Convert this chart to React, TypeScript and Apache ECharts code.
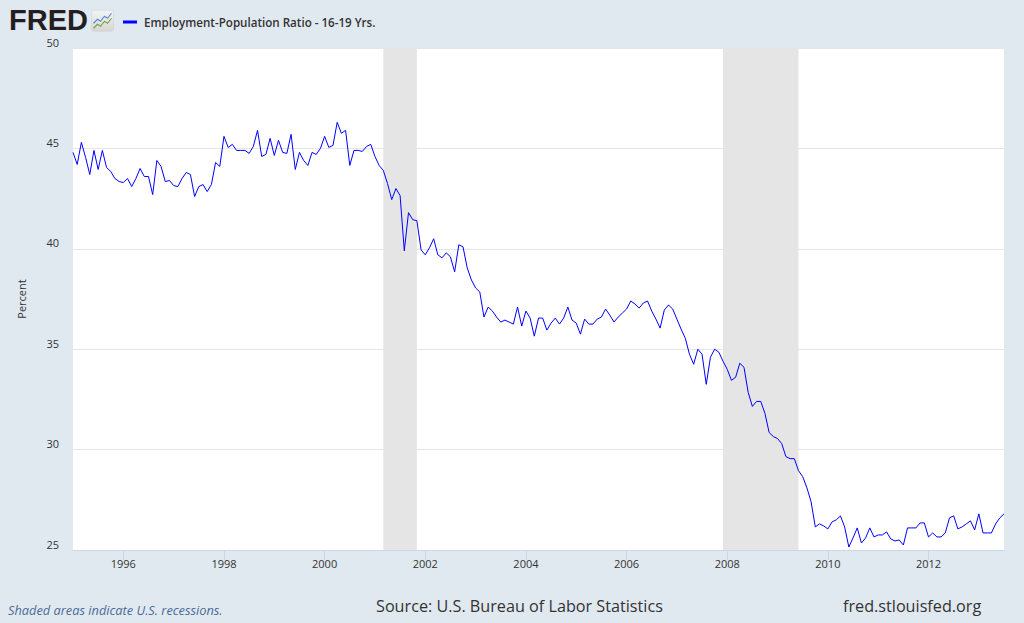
import React, { useEffect, useRef } from "react";
import * as echarts from "echarts";

const SERIES_NAME = "Employment-Population Ratio - 16-19 Yrs.";
const START_YEAR = 1995;
const START_MONTH = 0; // January

// Monthly values, Jan 1995 .. Jul 2013 (percent)
const y1995 = [44.8, 44.2, 45.3, 44.55, 43.7, 44.9, 43.95, 44.9, 44.05, 43.85, 43.5, 43.35];
const y1996 = [43.3, 43.5, 43.1, 43.5, 44.0, 43.6, 43.6, 42.7, 44.4, 44.1, 43.35, 43.4];
const y1997 = [43.15, 43.1, 43.5, 43.8, 43.7, 42.6, 43.1, 43.2, 42.85, 43.2, 44.3, 44.1];
const y1998 = [45.6, 45.05, 45.2, 44.9, 44.9, 44.9, 44.75, 45.1, 45.9, 44.6, 44.7, 45.5];
const y1999 = [44.65, 45.4, 44.8, 44.75, 45.7, 43.95, 44.8, 44.4, 44.15, 44.8, 44.7, 45.0];
const y2000 = [45.6, 45.05, 45.15, 46.3, 45.75, 45.9, 44.15, 44.9, 44.9, 44.85, 45.1, 45.2];
const y2001 = [44.6, 44.15, 43.9, 43.25, 42.45, 43.0, 42.65, 39.9, 41.8, 41.45, 41.4, 39.95];
const y2002 = [39.7, 40.05, 40.5, 39.7, 39.55, 39.8, 39.6, 38.85, 40.2, 40.1, 39.05, 38.45];
const y2003 = [38.05, 37.85, 36.6, 37.1, 36.9, 36.6, 36.35, 36.45, 36.35, 36.25, 37.1, 36.15];
const y2004 = [36.9, 36.55, 35.65, 36.55, 36.55, 35.95, 36.3, 36.55, 36.25, 36.55, 37.1, 36.45];
const y2005 = [36.3, 35.75, 36.5, 36.25, 36.25, 36.5, 36.6, 37.0, 36.7, 36.35, 36.6, 36.8];
const y2006 = [37.0, 37.4, 37.25, 37.05, 37.3, 37.4, 36.9, 36.5, 36.05, 36.95, 37.2, 37.0];
const y2007 = [36.5, 36.0, 35.55, 34.75, 34.25, 35.0, 34.75, 33.25, 34.6, 35.0, 34.85, 34.4];
const y2008 = [34.0, 33.45, 33.6, 34.3, 34.1, 32.85, 32.15, 32.4, 32.4, 31.8, 30.85, 30.65];
const y2009 = [30.55, 30.3, 29.65, 29.55, 29.55, 28.95, 28.65, 28.1, 27.4, 26.15, 26.3, 26.2];
const y2010 = [26.05, 26.4, 26.5, 26.7, 26.15, 25.15, 25.6, 26.1, 25.35, 25.6, 26.1, 25.65];
const y2011 = [25.75, 25.75, 25.9, 25.55, 25.45, 25.5, 25.25, 26.1, 26.1, 26.1, 26.35, 26.35];
const y2012 = [25.65, 25.85, 25.65, 25.65, 25.85, 26.6, 26.7, 26.05, 26.15, 26.3, 26.45, 26.0];
const y2013 = [26.8, 25.85, 25.85, 25.85, 26.3, 26.6, 26.8];

const values = [
  ...y1995, ...y1996, ...y1997, ...y1998, ...y1999, ...y2000, ...y2001,
  ...y2002, ...y2003, ...y2004, ...y2005, ...y2006, ...y2007, ...y2008,
  ...y2009, ...y2010, ...y2011, ...y2012, ...y2013,
];

// Recessions [start, end] as [year, monthIndex]
const recessionStarts: [number, number][] = [[2001, 2], [2007, 11]];
const recessionEnds: [number, number][] = [[2001, 10], [2009, 5]];

const tickYears = [1996, 1998, 2000, 2002, 2004, 2006, 2008, 2010, 2012];
const yTicks = { min: 25, max: 50, step: 5 };

// decimal year position of a month
const pos = (y: number, m: number) => y + m / 12;

export default function App() {
  const ref = useRef<HTMLDivElement>(null);

  useEffect(() => {
    if (!ref.current) return;
    const chart = echarts.init(ref.current, undefined, { renderer: "svg" });

    const data = values.map((v, i) => [pos(START_YEAR, START_MONTH + i), v]);
    const xMin = pos(START_YEAR, START_MONTH);
    const xMax = pos(START_YEAR, START_MONTH + values.length - 1);
    const areas = recessionStarts.map((s, i) => [
      { xAxis: pos(s[0], s[1]) },
      { xAxis: pos(recessionEnds[i][0], recessionEnds[i][1]) },
    ]);

    const option: any = {
      animation: false,
      backgroundColor: "#e1e9f0",
      textStyle: { fontFamily: "Open Sans" },
      grid: {
        left: 73,
        right: 20,
        top: 48,
        bottom: 73,
        show: true,
        backgroundColor: "#ffffff",
        borderWidth: 0,
      },
      legend: {
        left: 118,
        top: 11,
        itemWidth: 14,
        itemHeight: 3,
        itemGap: 8,
        data: [{ name: SERIES_NAME, icon: "rect" }],
        textStyle: {
          color: "#333333",
          fontSize: 11.6,
          fontWeight: 600,
          fontFamily: "Open Sans",
          padding: [0, 0, 0, 2],
        },
      },
      xAxis: {
        type: "value",
        min: xMin,
        max: xMax,
        axisLine: { show: true, lineStyle: { color: "#ccd6eb" } },
        axisTick: {
          show: true,
          length: 10,
          lineStyle: { color: "#ccd6eb" },
          customValues: tickYears,
        },
        axisLabel: {
          customValues: tickYears,
          formatter: (v: number) => String(Math.round(v)),
          color: "#333333",
          fontSize: 11,
          fontFamily: "Open Sans",
          margin: 8,
        },
        splitLine: { show: false },
      },
      yAxis: {
        type: "value",
        min: yTicks.min,
        max: yTicks.max,
        interval: yTicks.step,
        name: "Percent",
        nameLocation: "middle",
        nameGap: 46,
        nameTextStyle: { color: "#333333", fontSize: 11, fontFamily: "Open Sans" },
        axisLine: { show: false },
        axisTick: { show: false },
        axisLabel: {
          color: "#333333",
          fontSize: 11,
          fontFamily: "Open Sans",
          margin: 14,
          verticalAlign: "bottom",
          lineHeight: 12,
        },
        splitLine: { lineStyle: { color: "#e6e6e6", width: 1 } },
      },
      series: [
        {
          type: "line",
          name: SERIES_NAME,
          data,
          symbol: "none",
          showSymbol: false,
          lineStyle: { color: "#0000ff", width: 1 },
          itemStyle: { color: "#0000ff" },
          markArea: {
            silent: true,
            itemStyle: { color: "#e5e5e5", opacity: 1 },
            data: areas,
          },
        },
      ],
      graphic: [
        {
          type: "text",
          left: 9,
          top: 5,
          style: {
            text: "FRED",
            fill: "#231f20",
            fontSize: 29,
            fontWeight: 900,
            fontFamily: "Liberation Sans",
          },
        },
        {
          type: "group",
          left: 91,
          top: 10,
          children: [
            {
              type: "rect",
              shape: { x: 0, y: 0, width: 22, height: 21, r: 2 },
              style: {
                fill: new echarts.graphic.LinearGradient(0, 0, 0, 1, [
                  { offset: 0, color: "#f4f4f4" },
                  { offset: 1, color: "#d6d6d6" },
                ]),
                stroke: "#cfcfcf",
                lineWidth: 0.5,
              },
            },
            {
              type: "polyline",
              shape: { points: [[2, 13], [6, 9], [9, 11], [13, 6], [16, 8], [20, 3]] },
              style: { stroke: "#5b8bd0", lineWidth: 1.2, fill: "none" },
            },
            {
              type: "polyline",
              shape: { points: [[2, 18], [6, 14], [9, 16], [13, 11], [16, 13], [20, 8]] },
              style: { stroke: "#77a43c", lineWidth: 1.2, fill: "none" },
            },
          ],
        },
        {
          type: "text",
          left: 8,
          top: 603,
          style: {
            text: "Shaded areas indicate U.S. recessions.",
            fill: "#4b6b9a",
            fontSize: 12.8,
            fontStyle: "italic",
            fontFamily: "Open Sans",
          },
        },
        {
          type: "text",
          left: 376,
          top: 598,
          style: {
            text: "Source: U.S. Bureau of Labor Statistics",
            fill: "#333333",
            fontSize: 16.2,
            fontFamily: "Open Sans",
          },
        },
        {
          type: "text",
          left: 843,
          top: 598,
          style: {
            text: "fred.stlouisfed.org",
            fill: "#333333",
            fontSize: 16.2,
            fontFamily: "Open Sans",
          },
        },
      ],
    };

    chart.setOption(option);
    return () => chart.dispose();
  }, []);

  return (
    <div
      ref={ref}
      style={{ position: "fixed", left: 0, top: 0, width: 1024, height: 623 }}
    />
  );
}
